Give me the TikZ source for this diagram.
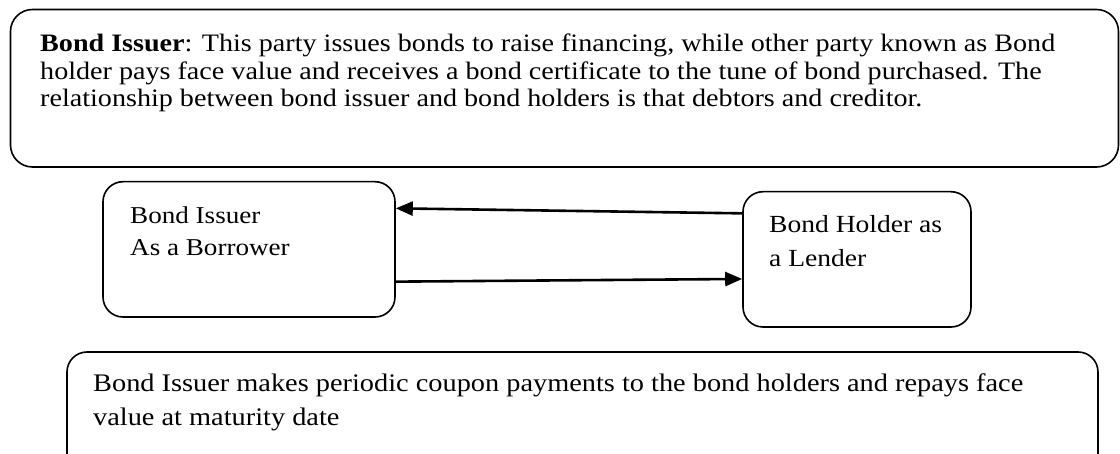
\documentclass[tikz,border=0pt]{standalone}
\usepackage{fontspec}
\setmainfont{Liberation Serif}[FakeStretch=1.12]
\usetikzlibrary{arrows.meta}
\tikzset{
  box/.style={draw=black, line width=1.6pt, rounded corners=20pt, inner sep=0pt},
  txt/.style={inner sep=0pt, anchor=base west, align=left},
  flow/.style={line width=2.6pt, -{Triangle[length=17pt,width=14pt]}},
}
\begin{document}
\begin{tikzpicture}[x=1pt,y=-1pt]
\useasboundingbox (0,0) rectangle (1120,454);
\clip (0,0) rectangle (1120,454);
% boxes
\node[box, rounded corners=22pt, minimum width=1108pt, minimum height=157.5pt] (top) at (564.5,88.25) {};
\node[box, minimum width=292pt, minimum height=135.3pt] (lb) at (249,249.35) {};
\node[box, minimum width=228pt, minimum height=135.3pt] (rb) at (857,259.35) {};
\node[box, minimum width=1031pt, minimum height=140pt] (bot) at (582.5,422) {};
% texts
\node[txt] (toptxt) at (40,51.7) {\parbox[t]{1075pt}{\fontsize{25.1pt}{27.5pt}\selectfont\raggedright
\textbf{Bond Issuer}: This party issues bonds to raise financing, while other party known as Bond\\
holder pays face value and receives a bond certificate to the tune of bond purchased. The\\
relationship between bond issuer and bond holders is that debtors and creditor.}};
\node[txt] (lbtxt) at (130,223.3) {\parbox[t]{260pt}{\fontsize{24.2pt}{32pt}\selectfont\raggedright
Bond Issuer\\
As a Borrower}};
\node[txt] (rbtxt) at (769,232.7) {\parbox[t]{200pt}{\fontsize{24.6pt}{34pt}\selectfont\raggedright
Bond Holder as\\
a Lender}};
\node[txt] (bottxt) at (93,391.7) {\parbox[t]{1000pt}{\fontsize{25.3pt}{34pt}\selectfont\raggedright
Bond Issuer makes periodic coupon payments to the bond holders and repays face\\
value at maturity date}};
% connectors
\draw[flow] ([yshift=46pt]rb.west) -- ([yshift=41pt]lb.east);
\draw[flow] ([yshift=-32.3pt]lb.east) -- ([yshift=-19.6pt]rb.west);
\end{tikzpicture}
\end{document}
